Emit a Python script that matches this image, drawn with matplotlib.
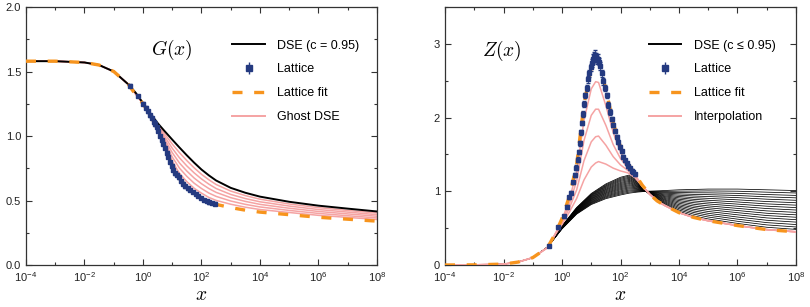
import numpy as np
import matplotlib
matplotlib.use('Agg')
import matplotlib.pyplot as plt
from matplotlib.ticker import FixedLocator, NullFormatter, MultipleLocator
from matplotlib.lines import Line2D

plt.rcParams['font.family'] = ['Liberation Sans', 'DejaVu Sans']

# ---------------- G(x) panel ----------------
g_logx = [-4, -3, -2, -1.5, -1, -0.5, -0.25, 0, 0.25, 0.5, 0.75, 1, 1.25, 1.5,
          1.75, 2, 2.25, 2.5, 3, 3.5, 4, 5, 6, 7, 8]
g_dse = [1.58, 1.58, 1.57, 1.55, 1.50, 1.40, 1.335, 1.255, 1.175, 1.10, 1.035, 0.972,
         0.91, 0.85, 0.793, 0.74, 0.695, 0.655, 0.598, 0.56, 0.53, 0.49, 0.46, 0.437, 0.415]
g_fit = [1.58, 1.58, 1.57, 1.55, 1.50, 1.40, 1.32, 1.25, 1.16, 1.055, 0.91, 0.77,
         0.67, 0.605, 0.555, 0.52, 0.49, 0.47, 0.445, 0.425, 0.41, 0.39, 0.37, 0.355, 0.34]
g_head = [1.58, 1.58, 1.57, 1.55, 1.50, 1.40]
g_ghost = [
    g_head + [1.333, 1.254, 1.173, 1.093, 1.014, .938, .870, .809, .753, .703, .661, .624, .573, .538, .510, .473, .445, .423, .403],
    g_head + [1.330, 1.253, 1.170, 1.085, .993, .905, .830, .768, .714, .667, .627, .593, .547, .515, .490, .457, .430, .410, .390],
    g_head + [1.328, 1.253, 1.168, 1.078, .973, .871, .790, .728, .674, .630, .593, .563, .522, .493, .470, .440, .415, .396, .378],
    g_head + [1.325, 1.252, 1.165, 1.070, .952, .837, .750, .687, .634, .593, .558, .532, .496, .470, .450, .423, .400, .382, .365],
    g_head + [1.323, 1.251, 1.163, 1.063, .931, .804, .710, .646, .595, .557, .524, .501, .471, .448, .430, .407, .385, .369, .353],
]
g_lat_logx = [-0.44, -0.16, 0.01, 0.10, 0.18, 0.25, 0.30, 0.36, 0.42, 0.47, 0.52, 0.58,
              0.64, 0.69, 0.75, 0.81, 0.86, 0.92, 0.98, 1.04, 1.10, 1.15, 1.22, 1.30,
              1.38, 1.45, 1.53, 1.61, 1.70, 1.80, 1.89, 1.98, 2.08, 2.18, 2.27, 2.37, 2.46]
g_lat = [1.39, 1.31, 1.25, 1.22, 1.19, 1.16, 1.14, 1.11, 1.09, 1.07, 1.04, 1.00,
         0.97, 0.94, 0.91, 0.87, 0.84, 0.80, 0.77, 0.74, 0.71, 0.70, 0.68, 0.65,
         0.63, 0.61, 0.595, 0.58, 0.565, 0.55, 0.535, 0.52, 0.505, 0.495, 0.485, 0.48, 0.475]

# ---------------- Z(x) panel ----------------
z_fit_logx = [-4, -3, -2, -1.5, -1, -0.5, -0.25, 0, 0.25, 0.5, 0.75, 1, 1.15, 1.25, 1.5,
              1.75, 2, 2.25, 2.5, 2.75, 3, 3.25, 3.5, 4, 4.5, 5, 6, 7, 8]
z_fit = [0, 0.002, 0.012, 0.04, 0.10, 0.235, 0.41, 0.63, 0.93, 1.36, 2.18, 2.68, 2.79,
         2.77, 2.38, 1.93, 1.60, 1.38, 1.23, 1.08, 0.96, 0.87, 0.81, 0.71, 0.645, 0.60,
         0.535, 0.48, 0.45]
z_head = [0, 0.002, 0.012, 0.04, 0.10, 0.235]
z_tail = [0.96, 0.87, 0.81, 0.71, 0.645, 0.60, 0.535, 0.48, 0.45]
z_interp = [
    z_head + [.408, .613, .884, 1.261, 1.959, 2.389, 2.487, 2.476, 2.162, 1.797, 1.530, 1.352, 1.220, 1.077] + z_tail,
    z_head + [.406, .592, .827, 1.140, 1.686, 2.030, 2.114, 2.113, 1.894, 1.634, 1.444, 1.317, 1.207, 1.072] + z_tail,
    z_head + [.404, .571, .771, 1.018, 1.413, 1.671, 1.740, 1.749, 1.625, 1.470, 1.358, 1.283, 1.195, 1.068] + z_tail,
    z_head + [.402, .551, .717, .902, 1.153, 1.329, 1.384, 1.403, 1.369, 1.314, 1.276, 1.250, 1.183, 1.064] + z_tail,
]

z_dse_logx = [-4, -3, -2, -1.5, -1, -0.5, 0, 0.5, 1, 1.5, 2, 2.3, 2.6, 2.9, 3.2, 3.5,
              4, 4.5, 5, 6, 7, 8]
z_dse_head = [0, 0.002, 0.012, 0.04, 0.10, 0.24]
z_dse = [
    [.530, .780, .970, 1.100, 1.190, 1.220, 1.140, .990, .890, .810, .710, .645, .600, .535, .480, .450],
    [.528, .775, .961, 1.088, 1.176, 1.206, 1.131, .991, .897, .822, .728, .667, .625, .564, .512, .483],
    [.525, .769, .952, 1.076, 1.162, 1.191, 1.122, .991, .904, .834, .746, .690, .651, .593, .544, .516],
    [.523, .764, .944, 1.065, 1.148, 1.177, 1.114, .992, .910, .845, .765, .712, .676, .622, .575, .549],
    [.521, .759, .935, 1.053, 1.134, 1.162, 1.105, .992, .917, .857, .783, .734, .701, .651, .607, .582],
    [.518, .754, .926, 1.041, 1.119, 1.148, 1.096, .993, .924, .869, .801, .757, .726, .681, .639, .615],
    [.516, .748, .917, 1.029, 1.105, 1.134, 1.087, .994, .931, .881, .819, .779, .752, .710, .671, .648],
    [.514, .743, .908, 1.018, 1.091, 1.119, 1.078, .994, .937, .892, .838, .801, .777, .739, .702, .681],
    [.511, .738, .899, 1.006, 1.077, 1.105, 1.069, .995, .944, .904, .856, .824, .802, .768, .734, .714],
    [.509, .732, .891, .994, 1.063, 1.090, 1.061, .995, .951, .916, .874, .846, .828, .797, .766, .746],
    [.506, .727, .882, .982, 1.049, 1.076, 1.052, .996, .958, .928, .892, .869, .853, .826, .798, .779],
    [.504, .722, .873, .971, 1.035, 1.061, 1.043, .996, .964, .939, .911, .891, .878, .855, .829, .812],
    [.502, .716, .864, .959, 1.021, 1.047, 1.034, .997, .971, .951, .929, .913, .904, .884, .861, .845],
    [.499, .711, .855, .947, 1.006, 1.033, 1.025, .998, .978, .963, .947, .936, .929, .914, .893, .878],
    [.497, .706, .846, .935, .992, 1.018, 1.016, .998, .985, .975, .965, .958, .954, .943, .925, .911],
    [.495, .701, .838, .924, .978, 1.004, 1.008, .999, .991, .986, .984, .980, .979, .972, .956, .944],
    [.492, .695, .829, .912, .964, .989, .999, .999, .998, .998, 1.002, 1.003, 1.005, 1.001, .988, .977],
    [.490, .690, .820, .900, .950, .975, .990, 1.000, 1.005, 1.010, 1.020, 1.025, 1.030, 1.030, 1.020, 1.010],
]

z_lat_logx = [-0.44, -0.13, 0.06, 0.16, 0.24, 0.30, 0.37, 0.43, 0.48, 0.53, 0.57, 0.61,
              0.65, 0.68, 0.71, 0.75, 0.79, 0.84, 0.89, 0.94, 0.99, 1.03, 1.07, 1.10,
              1.13, 1.16, 1.19, 1.23, 1.27, 1.31, 1.36, 1.41, 1.47, 1.53, 1.58, 1.64,
              1.70, 1.76, 1.81, 1.87, 1.93, 1.98, 2.04, 2.10, 2.16, 2.21, 2.27, 2.32,
              2.38, 2.44, 2.50]
z_lat = [0.26, 0.51, 0.66, 0.79, 0.92, 0.98, 1.12, 1.22, 1.32, 1.43, 1.53, 1.65,
         1.80, 1.93, 2.05, 2.18, 2.30, 2.40, 2.52, 2.60, 2.68, 2.74, 2.80, 2.83,
         2.85, 2.82, 2.78, 2.80, 2.76, 2.70, 2.60, 2.49, 2.40, 2.30, 2.17, 2.07,
         1.98, 1.90, 1.82, 1.74, 1.67, 1.60, 1.54, 1.47, 1.42, 1.38, 1.34, 1.31,
         1.28, 1.26, 1.23]
z_lat_err = [0.01, 0.02, 0.02, 0.02, 0.02, 0.02, 0.02, 0.03, 0.03, 0.03, 0.03, 0.03,
             0.03, 0.03, 0.04, 0.04, 0.04, 0.04, 0.05, 0.05, 0.05, 0.05, 0.06, 0.06,
             0.06, 0.06, 0.06, 0.06, 0.05, 0.05, 0.05, 0.05, 0.04, 0.04, 0.04, 0.04,
             0.03, 0.03, 0.03, 0.03, 0.03, 0.03, 0.02, 0.02, 0.02, 0.02, 0.02, 0.02,
             0.02, 0.02, 0.02]

NAVY = '#243a80'
ORANGE = '#f7941d'
PINK = '#f5a3a3'
SPINE = '#333333'


def x_of(logs):
    return 10.0 ** np.asarray(logs, dtype=float)


def style_axes(ax):
    ax.set_xscale('log')
    ax.set_xlim(1e-4, 1e8)
    ax.xaxis.set_major_locator(FixedLocator(10.0 ** np.arange(-4, 9, 2)))
    ax.xaxis.set_minor_locator(FixedLocator(10.0 ** np.arange(-3, 8, 2)))
    ax.xaxis.set_minor_formatter(NullFormatter())
    ax.tick_params(which='both', direction='in', top=True, right=True,
                   labelsize=8, color=SPINE, labelcolor='#222222', width=0.8)
    ax.tick_params(which='major', length=4)
    ax.tick_params(which='minor', length=2.5)
    ax.tick_params(axis='x', pad=4)
    for s in ax.spines.values():
        s.set_color(SPINE)
        s.set_linewidth(0.9)
    ax.set_xlabel(r'$x$', fontsize=14, math_fontfamily='cm', labelpad=2)


fig = plt.figure(figsize=(8.1, 3.07), dpi=100)
ax1 = fig.add_axes([0.0321, 0.1368, 0.4333, 0.8404])
ax2 = fig.add_axes([0.5494, 0.1368, 0.4333, 0.8404])

# ---- left: ghost ----
for row in g_ghost:
    ax1.plot(x_of(g_logx), row, color=PINK, lw=1.1, zorder=2)
ax1.plot(x_of(g_logx), g_dse, color='black', lw=1.4, zorder=3)
ax1.plot(x_of(g_logx), g_fit, color=ORANGE, lw=2.4, dashes=(3, 3.5), zorder=4)
ax1.errorbar(x_of(g_lat_logx), g_lat, yerr=0.01, fmt='s', ms=3.2, color=NAVY,
             ecolor=NAVY, elinewidth=0.6, capsize=1.2, zorder=5)
style_axes(ax1)
ax1.set_ylim(0, 2.0)
ax1.yaxis.set_major_locator(MultipleLocator(0.5))
ax1.yaxis.set_minor_locator(MultipleLocator(0.25))
ax1.yaxis.set_major_formatter(plt.FormatStrFormatter('%.1f'))
ax1.text(10 ** 1.0, 1.67, r'$G(x)$', fontsize=14, math_fontfamily='cm',
         ha='center', va='center')

# ---- right: gluon dressing ----
for row in z_dse:
    ax2.plot(x_of(z_dse_logx), z_dse_head + row, color='black', lw=0.55, zorder=2)
for row in z_interp:
    ax2.plot(x_of(z_fit_logx), row, color=PINK, lw=1.1, zorder=3)
ax2.plot(x_of(z_fit_logx), z_fit, color=ORANGE, lw=2.4, dashes=(3, 3.5), zorder=4)
ax2.errorbar(x_of(z_lat_logx), z_lat, yerr=z_lat_err, fmt='s', ms=3.2, color=NAVY,
             ecolor=NAVY, elinewidth=0.6, capsize=1.2, zorder=5)
style_axes(ax2)
ax2.set_ylim(0, 3.5)
ax2.yaxis.set_major_locator(MultipleLocator(1))
ax2.yaxis.set_minor_locator(MultipleLocator(0.5))
ax2.yaxis.set_major_formatter(plt.FormatStrFormatter('%d'))
ax2.text(10 ** -2.05, 2.91, r'$Z(x)$', fontsize=14, math_fontfamily='cm',
         ha='center', va='center')


def add_legend(ax, first, last, anchor):
    lat_handle = ax.errorbar([], [], yerr=[], fmt='s', ms=4, color=NAVY, ecolor=NAVY,
                             elinewidth=1, capsize=3)
    handles = [Line2D([], [], color='black', lw=1.4), lat_handle,
               Line2D([], [], color=ORANGE, lw=2.4, dashes=(3, 3.5)),
               Line2D([], [], color=PINK, lw=1.4)]
    labels = [first, 'Lattice', 'Lattice fit', last]
    ax.legend(handles, labels, loc='upper left', bbox_to_anchor=anchor, frameon=False,
              fontsize=9, handlelength=2.6, handletextpad=1.0, labelspacing=0.95,
              borderpad=0, borderaxespad=0)


add_legend(ax1, 'DSE (c = 0.95)', 'Ghost DSE', (0.588, 0.874))
add_legend(ax2, 'DSE (c \u2264 0.95)', 'Interpolation', (0.58, 0.874))

fig.savefig('out.png', dpi=100)
